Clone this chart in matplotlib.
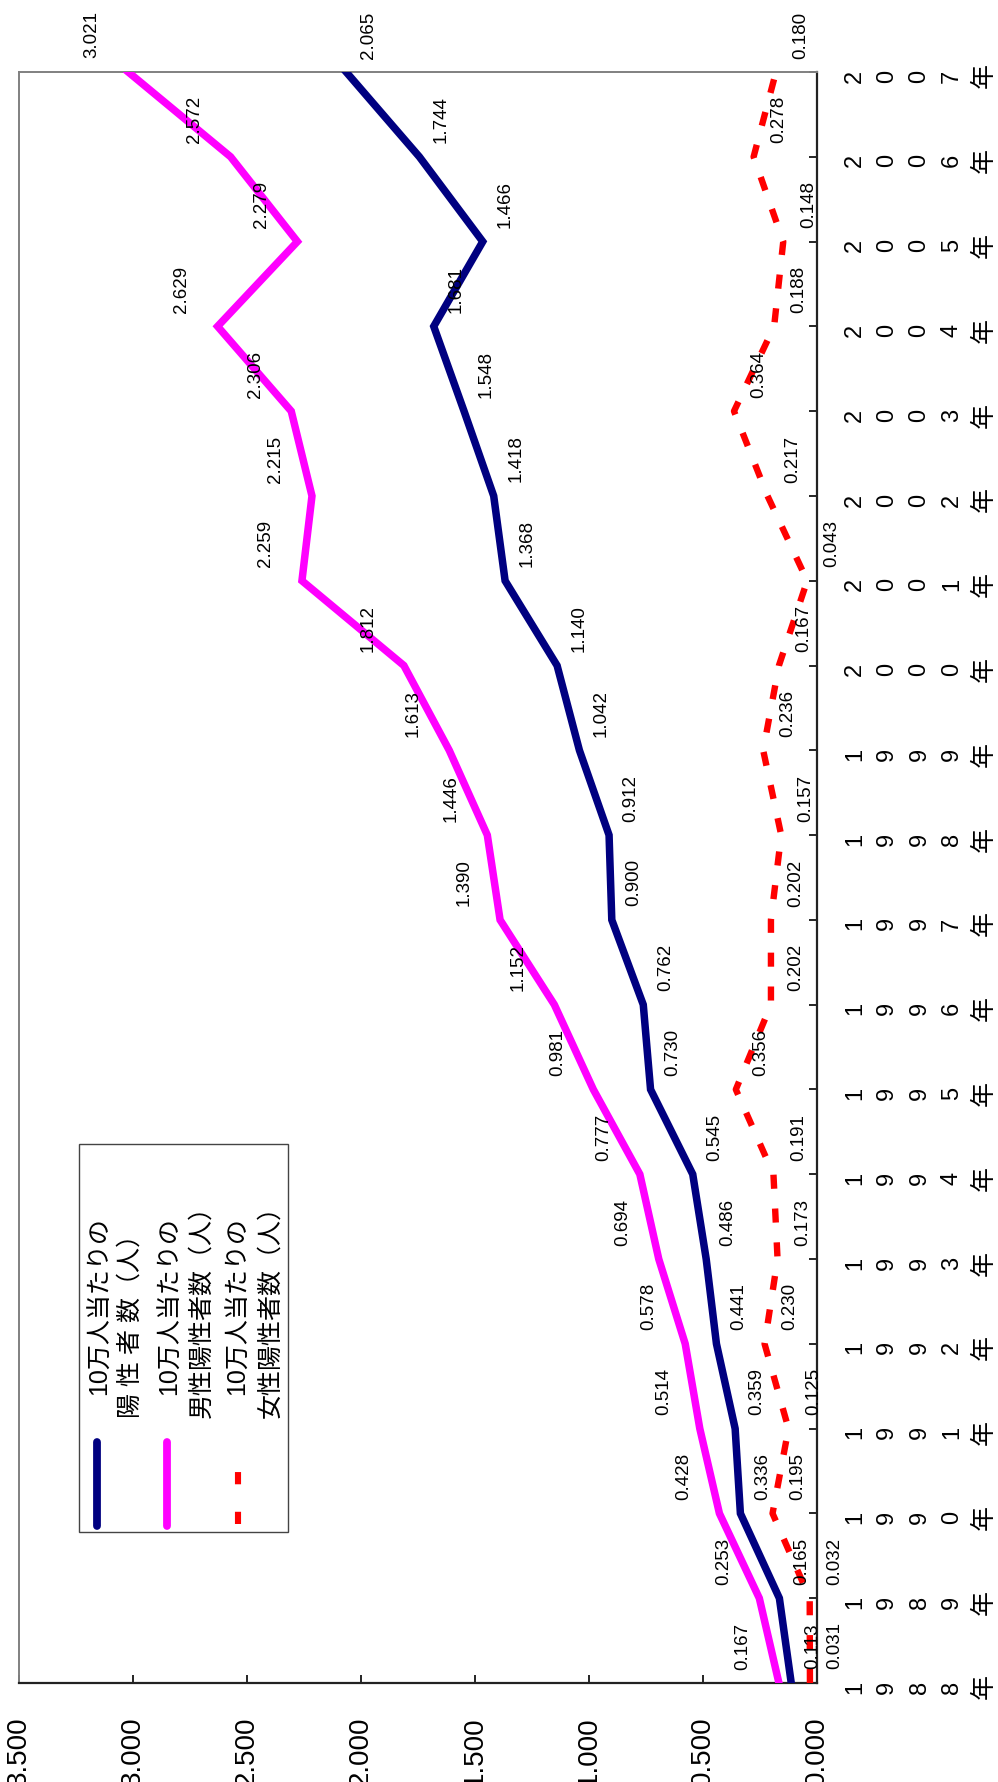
import numpy as np
import matplotlib
matplotlib.use("Agg")
import matplotlib.pyplot as plt
from matplotlib.ticker import FormatStrFormatter
from matplotlib.lines import Line2D
from matplotlib.patches import Rectangle

plt.rcParams['font.family'] = ['Liberation Sans', 'Noto Sans CJK JP', 'DejaVu Sans']

# データ（10万人当たりの陽性者数）
years = list(range(1988, 2008))
total = [0.113, 0.165, 0.336, 0.359, 0.441, 0.486, 0.545, 0.730, 0.762, 0.900,
         0.912, 1.042, 1.140, 1.368, 1.418, 1.548, 1.681, 1.466, 1.744, 2.065]
male = [0.167, 0.253, 0.428, 0.514, 0.578, 0.694, 0.777, 0.981, 1.152, 1.390,
        1.446, 1.613, 1.812, 2.259, 2.215, 2.306, 2.629, 2.279, 2.572, 3.021]
female = [0.031, 0.032, 0.195, 0.125, 0.230, 0.173, 0.191, 0.356, 0.202, 0.202,
          0.157, 0.236, 0.167, 0.043, 0.217, 0.364, 0.188, 0.148, 0.278, 0.180]
value_ticks = [0.0, 0.5, 1.0, 1.5, 2.0, 2.5, 3.0, 3.5]
legend_lines = [("10万人当たりの", "陽 性 者 数（人）"),
                ("10万人当たりの", "男性陽性者数（人）"),
                ("10万人当たりの", "女性陽性者数（人）")]

W, H = 998, 1783
fig = plt.figure(figsize=(W / 100, H / 100), dpi=100)

# 図は90度回転した状態：横軸が値（右が0）、縦軸が年
x0, x1, y0, y1 = 19, 817, 73, 1684
ax = fig.add_axes([x0 / W, 1 - y1 / H, (x1 - x0) / W, (y1 - y0) / H])

navy = '#000080'
magenta = '#FF00FF'
red = '#FF0000'

ax.plot(male, years, color=magenta, lw=5.4, solid_joinstyle='miter', zorder=3)
ax.plot(total, years, color=navy, lw=5.4, solid_joinstyle='miter', zorder=3)
ax.plot(female, years, color=red, lw=4.6, linestyle=(0, (2.2, 3.1)), zorder=3)

ax.set_xlim(3.5, 0)
ax.set_ylim(years[0], years[-1])

# データラベル
for vals, dx in ((male, -36), (total, 22), (female, 25)):
    for yr, v in zip(years, vals):
        ax.annotate(f"{v:.3f}", xy=(v, yr), xytext=(dx, 38),
                    textcoords='offset pixels', rotation=90,
                    ha='center', va='center', fontsize=13.5,
                    annotation_clip=False, zorder=5)

# 値軸（下）
ax.set_xticks(value_ticks)
ax.xaxis.set_major_formatter(FormatStrFormatter('%.3f'))
ax.tick_params(axis='x', direction='in', length=6, width=1.2, pad=23.5,
               labelsize=20, labelrotation=90, colors='black')

# 年軸（右）
ax.yaxis.tick_right()
ax.set_yticks(years)
ax.set_yticklabels([])
ax.tick_params(axis='y', direction='in', length=6, width=1.2)
for yr in years:
    for k, ch in enumerate(f"{yr}年"):
        ax.annotate(ch, xy=(1, yr), xycoords=('axes fraction', 'data'),
                    xytext=(38 + 32.3 * k, -3), textcoords='offset pixels',
                    rotation=90, ha='center', va='center',
                    fontsize=18 if ch == '年' else 17,
                    annotation_clip=False)

for side in ('left', 'top'):
    ax.spines[side].set_color('#808080')
    ax.spines[side].set_linewidth(1.4)
for side in ('right', 'bottom'):
    ax.spines[side].set_color('#222222')
    ax.spines[side].set_linewidth(1.6)


# 凡例（手描き）
def fx(px):
    return px / W


def fy(py):
    return 1 - py / H


fig.patches.append(Rectangle((fx(79), fy(1533)), fx(288) - fx(79), fy(1145) - fy(1533),
                             transform=fig.transFigure, facecolor='white',
                             edgecolor='#444444', lw=1.0, zorder=6))
samples = [(97, navy, '-'), (167, magenta, '-'), (238, red, (0, (2.0, 4.5)))]
for px, c, ls in samples:
    if ls == '-':
        fig.lines.append(Line2D([fx(px), fx(px)], [fy(1527), fy(1443)], color=c, lw=5.6,
                                solid_capstyle='round', transform=fig.transFigure, zorder=7))
    else:
        fig.lines.append(Line2D([fx(px), fx(px)], [fy(1525), fy(1450)], color=c, lw=4.4,
                                linestyle=ls, transform=fig.transFigure, zorder=7))

text_cols = [(100, 131), (170, 201), (238, 270)]
for (l1, l2), (cx1, cx2) in zip(legend_lines, text_cols):
    fig.text(fx(cx1), fy(1395), l1, rotation=90, rotation_mode='anchor',
             ha='left', va='center', fontsize=18, zorder=8)
    fig.text(fx(cx2), fy(1418), l2, rotation=90, rotation_mode='anchor',
             ha='left', va='center', fontsize=18, zorder=8)

fig.savefig('out.png', dpi=100, facecolor='white')
